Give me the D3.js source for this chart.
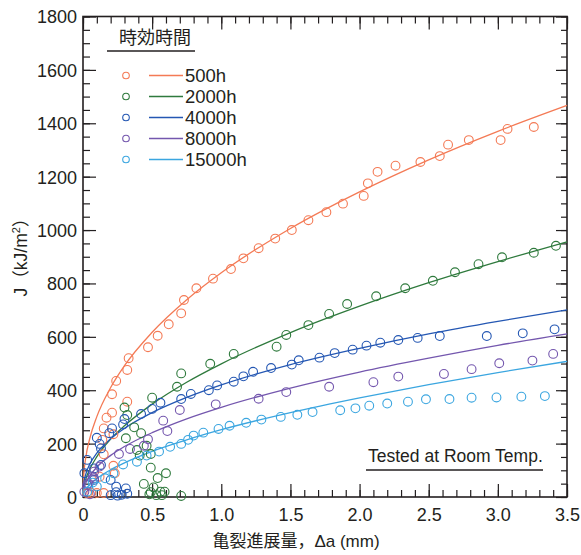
<!DOCTYPE html>
<html>
<head>
<meta charset="utf-8">
<script src="https://cdn.jsdelivr.net/npm/d3@7"></script>
<style>
  body { margin: 0; background: #fff; }
  svg text { font-family: "Liberation Sans", Arial, "Noto Sans CJK JP", sans-serif; fill: #231f20; }
</style>
</head>
<body>
<svg id="chart" width="581" height="555"></svg>
<script>
// aging time series
const seriesNames = ['500h', '2000h', '4000h', '8000h', '15000h'];
const seriesColors = ['#f47a55', '#2f7a3d', '#2457b3', '#7457ae', '#3ba6e0'];

// measured points: crack extension (mm) / J (kJ/m2)
const da500 = [0.03, 0.06, 0.10, 0.15, 0.12, 0.15, 0.14, 0.15, 0.17, 0.21, 0.21, 0.22, 0.22, 0.23, 0.24, 0.32, 0.32, 0.33, 0.47, 0.54, 0.62, 0.71, 0.73, 0.82, 0.94, 1.07, 1.16, 1.27, 1.39, 1.51, 1.63, 1.76, 1.88, 2.03, 2.06, 2.13, 2.26, 2.44, 2.58, 2.64, 2.79, 3.02, 3.07, 3.26];
const J500 = [14, 15, 15, 15, 76, 160, 214, 257, 297, 316, 385, 235, 117, 89, 435, 476, 357, 520, 561, 604, 647, 688, 738, 782, 818, 854, 894, 932, 968, 1000, 1037, 1067, 1099, 1128, 1175, 1218, 1241, 1255, 1277, 1320, 1337, 1337, 1379, 1386];

const da2000 = [0.30, 0.32, 0.31, 0.37, 0.42, 0.39, 0.41, 0.46, 0.49, 0.49, 0.50, 0.60, 0.54, 0.44, 0.51, 0.56, 0.59, 0.48, 0.53, 0.57, 0.49, 0.71, 0.68, 0.71, 0.92, 1.09, 1.40, 1.47, 1.63, 1.78, 1.91, 2.12, 2.33, 2.53, 2.69, 2.86, 3.03, 3.26, 3.42];
const J2000 = [335, 307, 220, 261, 239, 176, 155, 192, 161, 110, 372, 89, 71, 49, 36, 20, 20, 10, 7, 7, 18, 4, 413, 463, 499, 536, 563, 607, 644, 686, 723, 752, 782, 810, 842, 872, 898, 915, 941];

const da4000 = [0.01, 0.03, 0.08, 0.08, 0.10, 0.12, 0.13, 0.13, 0.19, 0.20, 0.21, 0.29, 0.30, 0.31, 0.24, 0.24, 0.20, 0.25, 0.28, 0.32, 0.42, 0.50, 0.56, 0.71, 0.78, 0.91, 0.97, 1.09, 1.16, 1.23, 1.36, 1.51, 1.56, 1.71, 1.82, 1.95, 2.05, 2.15, 2.28, 2.42, 2.58, 2.92, 3.18, 3.41];
const J4000 = [89, 139, 107, 64, 222, 199, 182, 120, 239, 64, 257, 272, 292, 32, 18, 39, 7, 5, 8, 12, 311, 330, 353, 367, 386, 400, 418, 432, 452, 469, 483, 496, 512, 522, 539, 552, 567, 578, 588, 596, 603, 603, 613, 628];

const da8000 = [0.01, 0.05, 0.03, 0.04, 0.07, 0.08, 0.08, 0.12, 0.26, 0.34, 0.44, 0.47, 0.61, 0.58, 0.70, 0.96, 1.27, 1.47, 1.78, 2.10, 2.28, 2.61, 2.81, 3.01, 3.25, 3.40];
const J8000 = [20, 10, 45, 51, 76, 70, 95, 114, 161, 180, 192, 216, 247, 286, 326, 347, 368, 393, 413, 430, 451, 461, 479, 501, 511, 536];

const da15000 = [0.03, 0.07, 0.10, 0.16, 0.22, 0.29, 0.39, 0.46, 0.55, 0.63, 0.71, 0.76, 0.80, 0.87, 0.98, 1.06, 1.18, 1.29, 1.43, 1.55, 1.66, 1.86, 1.97, 2.07, 2.20, 2.35, 2.48, 2.65, 2.81, 2.99, 3.17, 3.34];
const J15000 = [20, 54, 39, 70, 89, 122, 132, 155, 170, 188, 199, 214, 230, 241, 255, 267, 278, 290, 300, 308, 318, 325, 332, 342, 350, 357, 366, 367, 372, 373, 376, 378];

// fitted R-curves
const fitDa = [0, 0.005, 0.02, 0.05, 0.1, 0.2, 0.3, 0.5, 0.75, 1, 1.5, 2, 2.5, 3, 3.5];
const fit500 = [0, 79, 147, 221, 301, 410, 492, 617, 739, 840, 1006, 1143, 1263, 1370, 1467];
const fit2000 = [0, 32, 66, 105, 151, 217, 267, 348, 430, 499, 616, 715, 803, 882, 956];
const fit4000 = [0, 48, 85, 124, 164, 218, 257, 316, 373, 420, 496, 557, 611, 658, 701];
const fit8000 = [0, 27, 52, 80, 112, 156, 189, 241, 293, 336, 408, 468, 520, 568, 611];
const fit15000 = [0, 13, 28, 47, 69, 102, 128, 171, 214, 252, 316, 371, 421, 466, 508];

const xTicks = [0, 0.5, 1, 1.5, 2, 2.5, 3, 3.5];
const yTicks = [0, 200, 400, 600, 800, 1000, 1200, 1400, 1600, 1800];

const pointSets = [[da500, J500], [da2000, J2000], [da4000, J4000], [da8000, J8000], [da15000, J15000]];
const fitSets = [fit500, fit2000, fit4000, fit8000, fit15000];

const svg = d3.select('#chart');
const plotL = 83, plotR = 567, plotT = 16.5, plotB = 497;

const x = d3.scaleLinear().domain([0, 3.5]).range([plotL, plotR]);
const y = d3.scaleLinear().domain([0, 1800]).range([plotB, plotT]);

const xMinor = d3.range(0, 3.5001, 0.1).map(d => +d.toFixed(1));
const yMinor = d3.range(0, 1801, 50);

function drawAxis(axis, tx, ty, cls) {
  const g = svg.append('g').attr('class', cls).attr('transform', `translate(${tx},${ty})`).call(axis);
  g.select('.domain').remove();
  g.selectAll('line').attr('stroke', '#231f20').attr('stroke-width', 1.2);
  return g;
}

// minor ticks
drawAxis(d3.axisBottom(x).tickValues(xMinor).tickSize(-7).tickFormat(''), 0, plotB, 'xminor');
drawAxis(d3.axisTop(x).tickValues(xMinor).tickSize(-7).tickFormat(''), 0, plotT, 'xminor');
drawAxis(d3.axisLeft(y).tickValues(yMinor).tickSize(-7).tickFormat(''), plotL, 0, 'yminor');
drawAxis(d3.axisRight(y).tickValues(yMinor).tickSize(-6).tickFormat(''), plotR, 0, 'yminor');

// major ticks + labels
const xb = drawAxis(d3.axisBottom(x).tickValues(xTicks).tickSize(-13).tickPadding(11)
  .tickFormat(d => d === 0 ? '0' : d.toFixed(1)), 0, plotB, 'xaxis');
drawAxis(d3.axisTop(x).tickValues(xTicks).tickSize(-13).tickFormat(''), 0, plotT, 'xtop');
const yl = drawAxis(d3.axisLeft(y).tickValues(yTicks).tickSize(-13).tickPadding(6)
  .tickFormat(d3.format('d')), plotL, 0, 'yaxis');
drawAxis(d3.axisRight(y).tickValues(yTicks).tickSize(-11).tickFormat(''), plotR, 0, 'yright');

xb.selectAll('text').attr('font-size', 18).attr('dy', '0.71em');
yl.selectAll('text').attr('font-size', 18).attr('dy', '0.36em');

// frame
svg.append('rect')
  .attr('x', plotL).attr('y', plotT)
  .attr('width', plotR - plotL).attr('height', plotB - plotT)
  .attr('fill', 'none').attr('stroke', '#231f20').attr('stroke-width', 1.6);

// curves
const line = d3.line()
  .x((d, i) => x(fitDa[i]))
  .y(d => y(d))
  .curve(d3.curveMonotoneX);

fitSets.forEach((vals, i) => {
  svg.append('path')
    .attr('d', line(vals))
    .attr('fill', 'none')
    .attr('stroke', seriesColors[i])
    .attr('stroke-width', 1.3);
});

// points
pointSets.forEach(([xs, js], i) => {
  svg.append('g').selectAll('circle')
    .data(xs.map((d, k) => [d, js[k]]))
    .join('circle')
    .attr('cx', d => x(d[0]))
    .attr('cy', d => y(d[1]))
    .attr('r', 4.4)
    .attr('fill', 'none')
    .attr('stroke', seriesColors[i])
    .attr('stroke-width', 1.1);
});

// legend
const legend = svg.append('g');
legend.append('text')
  .attr('x', 119).attr('y', 44)
  .attr('font-size', 18)
  .style('font-family', '"Noto Sans CJK JP", sans-serif')
  .text('時効時間');
legend.append('line')
  .attr('x1', 107).attr('x2', 195).attr('y1', 51).attr('y2', 51)
  .attr('stroke', '#231f20').attr('stroke-width', 1.6);

seriesNames.forEach((name, i) => {
  const ly = 75.5 + i * 21;
  legend.append('circle')
    .attr('cx', 126).attr('cy', ly).attr('r', 3.3)
    .attr('fill', 'none').attr('stroke', seriesColors[i]).attr('stroke-width', 1.1);
  legend.append('line')
    .attr('x1', 149).attr('x2', 183).attr('y1', ly).attr('y2', ly)
    .attr('stroke', seriesColors[i]).attr('stroke-width', 1.3);
  legend.append('text')
    .attr('x', 185).attr('y', ly + 6.5)
    .attr('font-size', 18.5)
    .text(name);
});

// test note
svg.append('text')
  .attr('x', 368).attr('y', 462)
  .attr('font-size', 17.5)
  .text('Tested at Room Temp.');
svg.append('line')
  .attr('x1', 366).attr('x2', 543).attr('y1', 470).attr('y2', 470)
  .attr('stroke', '#231f20').attr('stroke-width', 1.6);

// axis titles
svg.append('text')
  .attr('x', 296).attr('y', 547)
  .attr('text-anchor', 'middle')
  .attr('font-size', 17)
  .text('亀裂進展量，Δa (mm)');

const yTitle = svg.append('text')
  .attr('transform', 'translate(27,253) rotate(-90)')
  .attr('text-anchor', 'middle')
  .attr('font-size', 17.5);
yTitle.append('tspan').text('J');
yTitle.append('tspan').style('font-family', '"Noto Sans CJK JP", sans-serif').text('（');
yTitle.append('tspan').text('kJ/m');
yTitle.append('tspan').attr('font-size', 11).attr('dy', -7).text('2');
yTitle.append('tspan').attr('dy', 7).style('font-family', '"Noto Sans CJK JP", sans-serif').text('）');
</script>
</body>
</html>
